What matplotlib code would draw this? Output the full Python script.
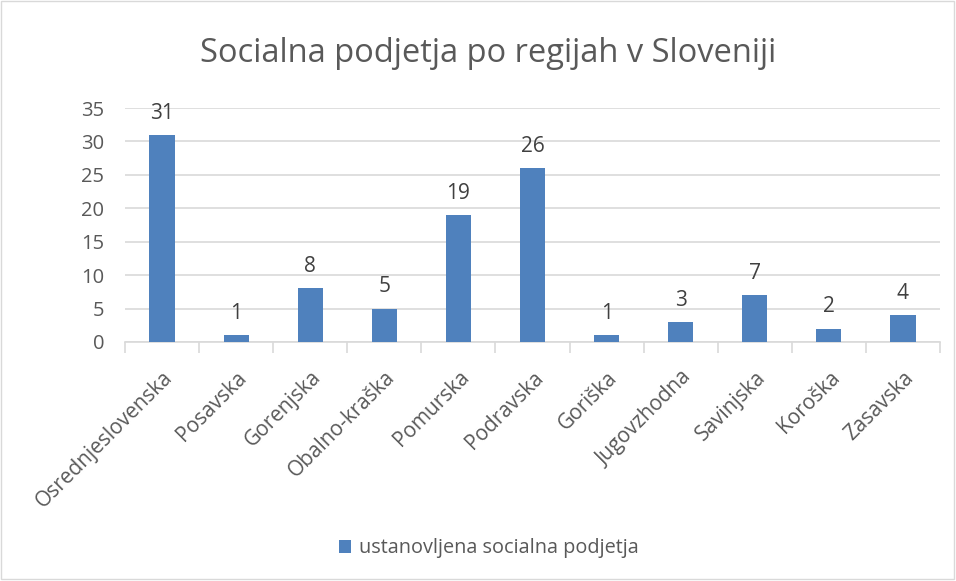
import matplotlib.pyplot as plt
from matplotlib.patches import Rectangle

regions = ['Osrednjeslovenska', 'Posavska', 'Gorenjska', 'Obalno-kraška', 'Pomurska',
           'Podravska', 'Goriška', 'Jugovzhodna', 'Savinjska', 'Koroška', 'Zasavska']
podjetja = [31, 1, 8, 5, 19, 26, 1, 3, 7, 2, 4]
yticks = [0, 5, 10, 15, 20, 25, 30, 35]

plt.rcParams['font.family'] = ['Open Sans', 'DejaVu Sans']

fig = plt.figure(figsize=(9.56, 5.81), dpi=100)
ax = fig.add_axes([0.1308, 0.4114, 0.8525, 0.4027])

x = list(range(len(regions)))
bars = ax.bar(x, podjetja, width=0.34, color='#4F81BD', zorder=3,
              label='ustanovljena socialna podjetja')

# data labels above each bar
for xi, v in zip(x, podjetja):
    ax.annotate(str(v), (xi, v), xytext=(0, 8), textcoords='offset points',
                ha='center', va='bottom', fontsize=15, color='#404040')

ax.set_xlim(-0.5, len(regions) - 0.5)
ax.set_ylim(0, 35)
ax.set_yticks(yticks)
ax.yaxis.grid(True, color='#d9d9d9', linewidth=1.2, zorder=0)
ax.tick_params(axis='y', length=0, labelsize=14.5, labelcolor='#595959', pad=15)

ax.set_xticks(x)
ax.set_xticklabels(regions, rotation=45, ha='right', va='top', rotation_mode='anchor',
                   fontsize=15, color='#595959')
ax.set_xticks([i - 0.5 for i in range(len(regions) + 1)], minor=True)
ax.tick_params(axis='x', which='major', length=0, pad=18)
ax.tick_params(axis='x', which='minor', length=8, color='#d9d9d9', width=1.2)

for s in ['top', 'right', 'left']:
    ax.spines[s].set_visible(False)
ax.spines['bottom'].set_color('#d9d9d9')
ax.spines['bottom'].set_linewidth(1.2)

fig.text(0.511, 0.908, 'Socialna podjetja po regijah v Sloveniji', ha='center', va='center',
         fontsize=23.5, color='#595959')

fig.legend(handles=[bars], loc='center', bbox_to_anchor=(0.511, 0.056), frameon=False,
           fontsize=14.3, labelcolor='#595959', handlelength=0.6, handleheight=0.6,
           handletextpad=0.4)

fig.patches.append(Rectangle((0.001, 0.003), 0.997, 0.995, transform=fig.transFigure,
                             fill=False, edgecolor='#d9d9d9', linewidth=1))

fig.savefig('out.png', dpi=100)
